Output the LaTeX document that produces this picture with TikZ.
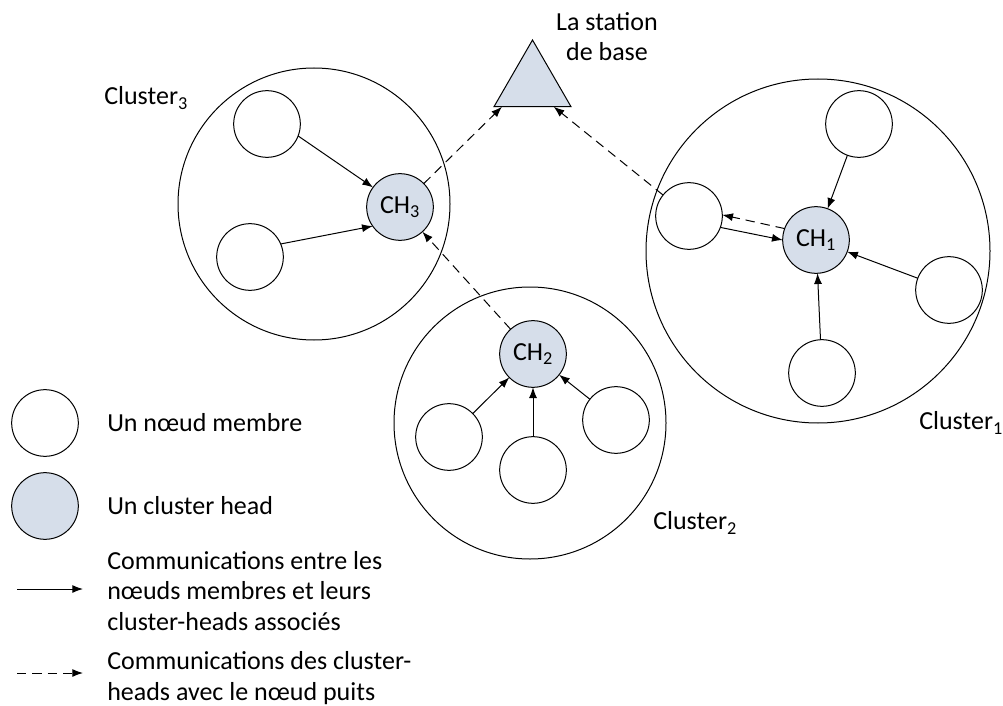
\documentclass[tikz,border=0pt]{standalone}
\usepackage{fontspec}
\setmainfont{Carlito}
\usetikzlibrary{arrows.meta,shapes.geometric}
\definecolor{chfill}{RGB}{214,222,234}
\tikzset{
  member/.style={circle, draw, fill=white, line width=0.75pt, minimum size=50pt, inner sep=0pt, outer sep=0pt},
  head/.style={member, fill=chfill, font=\fontsize{19.5}{23}\selectfont},
  cluster/.style={circle, draw, line width=0.75pt, inner sep=0pt, outer sep=0pt},
  lbl/.style={font=\fontsize{19.5}{23}\selectfont, inner sep=0pt},
  link/.style={-{Latex[length=8pt,width=6pt]}, line width=0.75pt},
  uplink/.style={link, dash pattern=on 7pt off 4.5pt},
}
\begin{document}
\begin{tikzpicture}[x=0.75pt,y=0.75pt,yscale=-1,xscale=1]
\useasboundingbox (0,0) rectangle (1003,706);

% Clusters
\node [cluster, minimum size=204pt] (k3) at (314,204) {};
\node [cluster, minimum size=204pt] (k2) at (530,423) {};
\node [cluster, minimum size=258pt] (k1) at (818,251) {};
\node [lbl, anchor=west] (t3) at (104,98) {Cluster\textsubscript{3}};
\node [lbl, anchor=west] (t2) at (653,523) {Cluster\textsubscript{2}};
\node [lbl, anchor=west] (t1) at (919,423) {Cluster\textsubscript{1}};

% Station de base
\node [regular polygon, regular polygon sides=3, minimum size=66.75pt, inner sep=0pt, outer sep=0pt, draw, fill=chfill, line width=0.75pt] (bs) at (532.5,84.5) {};
\node [lbl, align=center] (tbs) at (607,36.5) {La station\\de base};

% Cluster 3
\node [member] (m3a) at (267,124) {};
\node [member] (m3b) at (250,257) {};
\node [head] (ch3) at (400,207) {CH\textsubscript{3}};

% Cluster 2
\node [head] (ch2) at (533,354) {CH\textsubscript{2}};
\node [member] (m2a) at (449,437) {};
\node [member] (m2b) at (533,470) {};
\node [member] (m2c) at (616,420) {};

% Cluster 1
\node [head] (ch1) at (816,240) {CH\textsubscript{1}};
\node [member] (m1a) at (859,124) {};
\node [member] (m1b) at (689,216) {};
\node [member] (m1c) at (949,290) {};
\node [member] (m1d) at (822,373) {};

% Liens membres -> CH
\draw [link] (m3a.-21) -- (ch3.144);
\draw [link] (m3b.23) -- (ch3.215);
\draw [link] (m2a) -- (ch2);
\draw [link] (m2b) -- (ch2);
\draw [link] (m2c) -- (ch2);
\draw [link] (m1a) -- (ch1);
\draw [link] (m1b.-20) -- (ch1.180);
\draw [link] (m1c) -- (ch1);
\draw [link] (m1d) -- (ch1);

% Liens vers la station
\draw [uplink] (ch1.160) -- (m1b.2);
\draw [uplink] (m1b) -- ([xshift=-13pt]bs.corner 3);
\draw [uplink] (ch3) -- ([xshift=6pt]bs.corner 2);
\draw [uplink] (ch2) -- (ch3);

% Legende
\node [member] (lgm) at (45,423) {};
\node [lbl, anchor=west] (lgmt) at (107,423) {Un nœud membre};
\node [member, fill=chfill] (lgh) at (45,506) {};
\node [lbl, anchor=west] (lght) at (107,506) {Un cluster head};
\coordinate (lsa) at (17,589);
\coordinate (lsb) at (83,589);
\draw [link] (lsa) -- (lsb);
\node [lbl, anchor=west, align=left] (lst) at (107,591) {Communications entre les\\nœuds membres et leurs\\cluster-heads associés};
\coordinate (lda) at (17,673);
\coordinate (ldb) at (83,673);
\draw [uplink] (lda) -- (ldb);
\node [lbl, anchor=west, align=left] (ldt) at (107,678) {Communications des cluster-\\heads avec le nœud puits};

\end{tikzpicture}
\end{document}
